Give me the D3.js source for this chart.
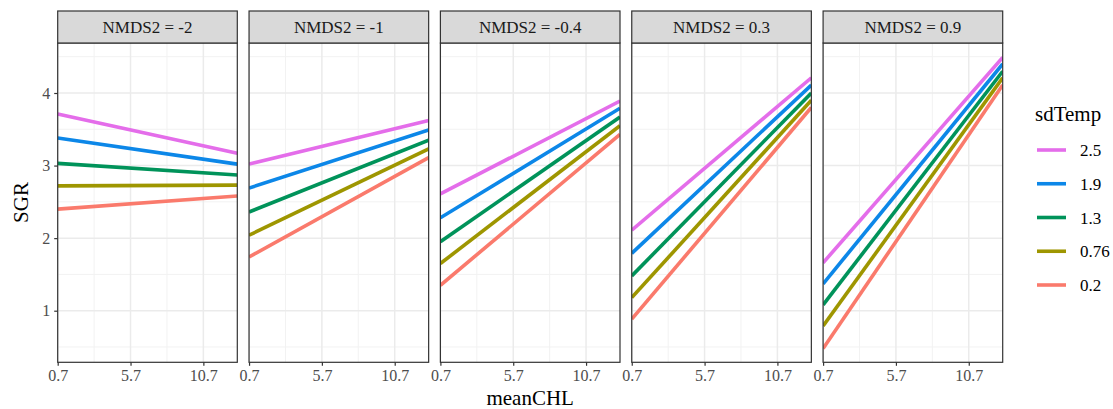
<!DOCTYPE html>
<html>
<head>
<meta charset="utf-8">
<script src="https://cdn.jsdelivr.net/npm/d3@7"></script>
<style>
  body { margin: 0; background: #fff; }
  text { font-family: "Liberation Serif", "DejaVu Serif", serif; }
</style>
</head>
<body>
<script>
// facets, legend levels and the fitted SGR at the two ends of meanCHL
var facets = ["NMDS2 = -2", "NMDS2 = -1", "NMDS2 = -0.4", "NMDS2 = 0.3", "NMDS2 = 0.9"];
var sdTemp = ["2.5", "1.9", "1.3", "0.76", "0.2"];
var colors = ["#E46DEA", "#0C87E8", "#00935A", "#9E9600", "#FA7A6C"];
var meanCHL = [0.7, 13.03];
var xTicks = [0.7, 5.7, 10.7];
var xMinor = [3.2, 8.2];
var yTicks = [1, 2, 3, 4];
var yMinor = [0.5, 1.5, 2.5, 3.5, 4.5];

// one row per facet, one value per sdTemp level
var sgrStart = [
  [3.71, 3.38, 3.03, 2.72, 2.40],
  [3.02, 2.69, 2.36, 2.04, 1.74],
  [2.61, 2.28, 1.95, 1.65, 1.35],
  [2.11, 1.79, 1.48, 1.18, 0.885],
  [1.66, 1.37, 1.08, 0.79, 0.48]
];
var sgrEnd = [
  [3.17, 3.02, 2.87, 2.73, 2.58],
  [3.62, 3.49, 3.35, 3.23, 3.11],
  [3.89, 3.79, 3.67, 3.55, 3.43],
  [4.21, 4.11, 4.00, 3.90, 3.80],
  [4.49, 4.40, 4.30, 4.21, 4.11]
];

var width = 1113, height = 409;
var plotTop = 43, plotBottom = 362.3;

var svg = d3.select("body").append("svg")
  .attr("width", width)
  .attr("height", height);

var facetScale = d3.scaleBand()
  .domain(facets)
  .range([57.7, 1002.7])
  .paddingInner(0.0614);

var pw = facetScale.bandwidth();

var y = d3.scaleLinear()
  .domain([0.289, 4.689])
  .range([plotBottom, plotTop]);

var x = d3.scaleLinear()
  .domain([0.7, 13.03])
  .range([0, pw]);

var line = d3.line()
  .x(function (d) { return x(d[0]); })
  .y(function (d) { return y(d[1]); });

facets.forEach(function (f, fi) {
  var g = svg.append("g")
    .attr("transform", "translate(" + facetScale(f) + ",0)");

  // grid
  g.selectAll(".ymin").data(yMinor).enter().append("line")
    .attr("x1", 0).attr("x2", pw)
    .attr("y1", function (d) { return y(d); })
    .attr("y2", function (d) { return y(d); })
    .attr("stroke", "#F2F2F2").attr("stroke-width", 1);
  g.selectAll(".xmin").data(xMinor).enter().append("line")
    .attr("y1", plotTop).attr("y2", plotBottom)
    .attr("x1", function (d) { return x(d); })
    .attr("x2", function (d) { return x(d); })
    .attr("stroke", "#F2F2F2").attr("stroke-width", 1);
  g.selectAll(".ymaj").data(yTicks).enter().append("line")
    .attr("x1", 0).attr("x2", pw)
    .attr("y1", function (d) { return y(d); })
    .attr("y2", function (d) { return y(d); })
    .attr("stroke", "#EBEBEB").attr("stroke-width", 1.5);
  g.selectAll(".xmaj").data(xTicks).enter().append("line")
    .attr("y1", plotTop).attr("y2", plotBottom)
    .attr("x1", function (d) { return x(d); })
    .attr("x2", function (d) { return x(d); })
    .attr("stroke", "#EBEBEB").attr("stroke-width", 1.5);

  // lines
  var clipId = "clip" + fi;
  g.append("clipPath").attr("id", clipId)
    .append("rect").attr("x", 0).attr("y", plotTop).attr("width", pw).attr("height", plotBottom - plotTop);

  var series = sdTemp.map(function (s, si) {
    return [[meanCHL[0], sgrStart[fi][si]], [meanCHL[1], sgrEnd[fi][si]]];
  });
  // draw low sdTemp first so 2.5 is on top
  g.append("g").attr("clip-path", "url(#" + clipId + ")")
    .selectAll("path").data(series.slice().reverse()).enter().append("path")
    .attr("d", line)
    .attr("fill", "none")
    .attr("stroke", function (d, i) { return colors[sdTemp.length - 1 - i]; })
    .attr("stroke-width", 3.6);

  // panel border
  g.append("rect")
    .attr("x", 0).attr("y", plotTop).attr("width", pw).attr("height", plotBottom - plotTop)
    .attr("fill", "none").attr("stroke", "#333").attr("stroke-width", 1.2);

  // strip
  g.append("rect")
    .attr("x", 0).attr("y", 11).attr("width", pw).attr("height", plotTop - 11)
    .attr("fill", "#D9D9D9").attr("stroke", "#333").attr("stroke-width", 1.2);
  g.append("text")
    .attr("x", pw / 2).attr("y", 33)
    .attr("text-anchor", "middle")
    .style("font-size", "17px")
    .attr("fill", "#1A1A1A")
    .text(f);

  // x axis
  var xAxis = g.append("g")
    .attr("transform", "translate(0," + plotBottom + ")")
    .call(d3.axisBottom(x).tickValues(xTicks).tickFormat(d3.format(".1f")).tickSize(3.5).tickPadding(4));
  xAxis.select(".domain").remove();
  xAxis.selectAll("line").attr("stroke", "#333").attr("stroke-width", 1.2);
  xAxis.selectAll("text")
    .style("font-size", "16px")
    .style("font-family", "Liberation Serif, serif")
    .attr("fill", "#4D4D4D");
});

// y axis on first panel
var yAxis = svg.append("g")
  .attr("transform", "translate(" + facetScale(facets[0]) + ",0)")
  .call(d3.axisLeft(y).tickValues(yTicks).tickFormat(d3.format("d")).tickSize(3.5).tickPadding(4));
yAxis.select(".domain").remove();
yAxis.selectAll("line").attr("stroke", "#333").attr("stroke-width", 1.2);
yAxis.selectAll("text")
  .style("font-size", "16px")
  .style("font-family", "Liberation Serif, serif")
  .attr("fill", "#4D4D4D");

// axis titles
svg.append("text")
  .attr("x", (57.7 + 1002.7) / 2).attr("y", 405)
  .attr("text-anchor", "middle")
  .style("font-size", "21px")
  .text("meanCHL");

svg.append("text")
  .attr("transform", "translate(28,202.5) rotate(-90)")
  .attr("text-anchor", "middle")
  .style("font-size", "21px")
  .text("SGR");

// legend
var legend = svg.append("g").attr("transform", "translate(1035,0)");
legend.append("text")
  .attr("x", 0).attr("y", 121)
  .style("font-size", "21px")
  .text("sdTemp");

var keyY = d3.scalePoint().domain(sdTemp).range([150, 285]);
var items = legend.selectAll(".item").data(sdTemp).enter().append("g")
  .attr("transform", function (d) { return "translate(0," + keyY(d) + ")"; });
items.append("line")
  .attr("x1", 2).attr("x2", 31)
  .attr("stroke", function (d, i) { return colors[i]; })
  .attr("stroke-width", 3.6);
items.append("text")
  .attr("x", 45).attr("y", 6)
  .style("font-size", "17px")
  .text(function (d) { return d; });
</script>
</body>
</html>
